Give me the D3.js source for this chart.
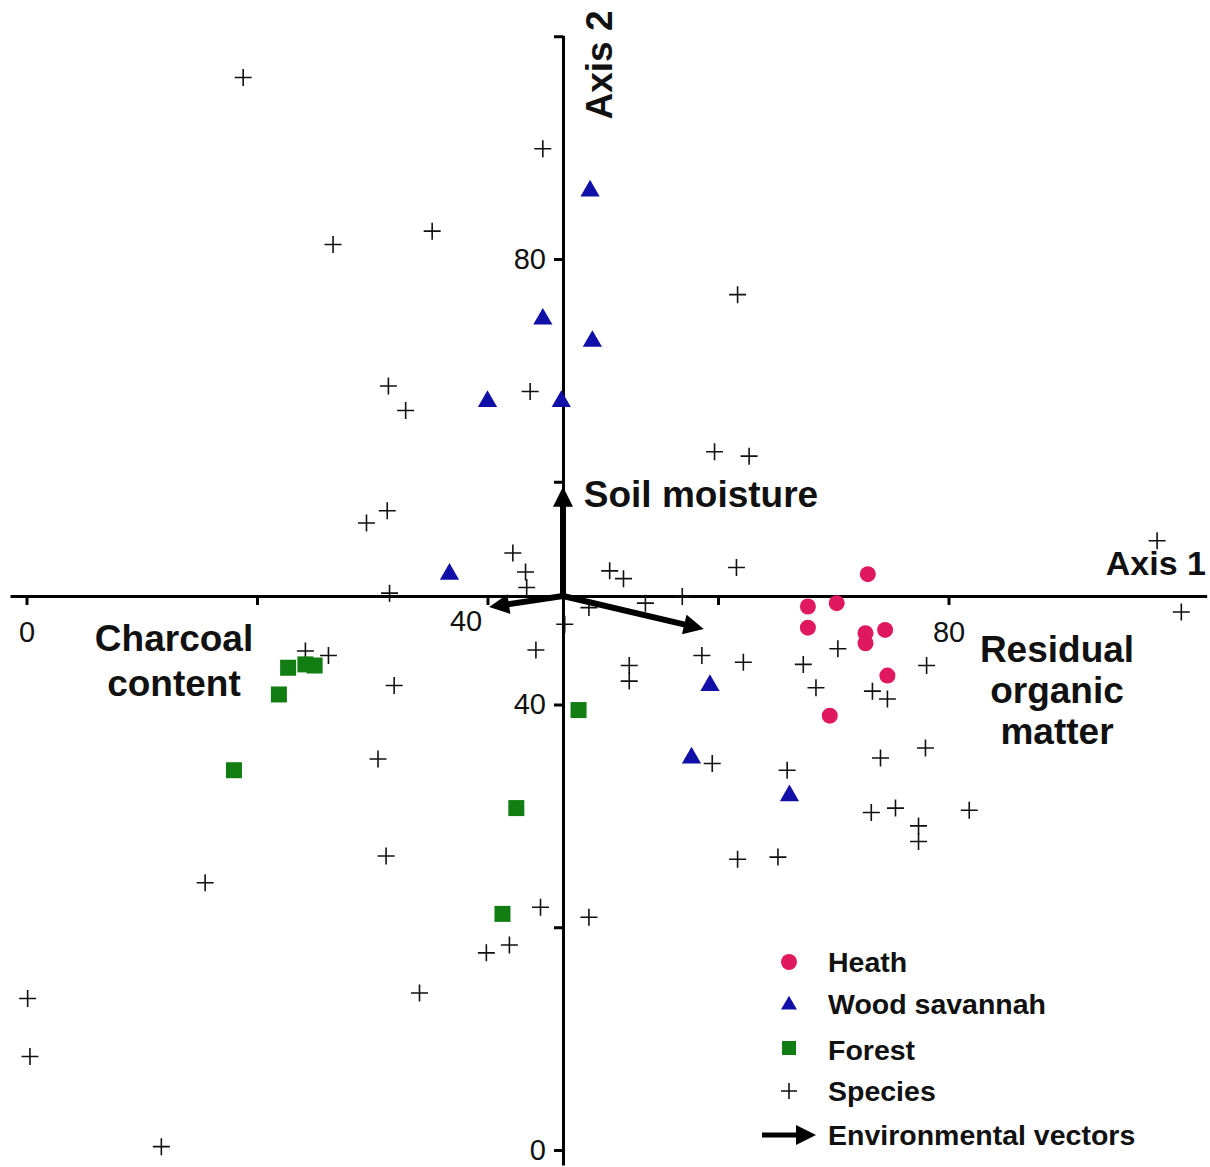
<!DOCTYPE html>
<html>
  <head>
    <script src="https://cdn.jsdelivr.net/npm/d3@7"></script>
    <style>
      body { margin: 0; background: #fff; }
      svg text { font-family: "Liberation Sans", Arial, sans-serif; fill: #111; }
    </style>
  </head>
  <body>
    <script>

    // Site scores (axis units)
    var heathX = [73.0, 67.8, 70.3, 67.8, 72.8, 72.8, 74.5, 74.7, 69.7];
    var heathY = [51.7, 48.8, 49.1, 46.9, 46.4, 45.5, 46.7, 42.6, 39.0];

    var savannahX = [48.9, 44.8, 49.1, 40.0, 46.4, 36.7, 59.3, 57.7, 66.2];
    var savannahY = [86.2, 74.7, 72.7, 67.3, 67.3, 51.8, 41.8, 35.3, 31.9];

    var forestX = [22.7, 24.2, 25.0, 21.9, 18.0, 47.9, 42.5, 41.3];
    var forestY = [43.3, 43.6, 43.5, 40.9, 34.1, 39.5, 30.7, 21.2];

    // Species scores
    var speciesX = [18.8, 26.6, 35.2, 44.8, 31.4, 32.9, 43.7, 29.5, 31.3, 42.2,
      43.3, 31.5, 43.4, 61.7, 59.7, 62.7, 50.6, 51.8, 61.6, 98.1,
      56.9, 100.2, 53.7, 48.8, 46.7, 58.6, 62.2, 67.4, 70.4, 52.3,
      52.3, 68.5, 73.4, 74.7, 78.1, 78.0, 74.1, 59.5, 66.0, 73.3,
      75.4, 81.8, 77.4, 77.4, 61.7, 65.2, 48.8, 44.2, 24.2, 26.2,
      31.9, 30.5, 31.2, 15.5, 44.6, 39.9, 41.9, 34.1, 0.1, 0.3, 11.7];
    var speciesY = [96.3, 81.3, 82.5, 89.9, 68.6, 66.4, 68.1, 56.3, 57.4, 53.6,
      51.9, 50.0, 50.5, 76.8, 62.7, 62.3, 52.0, 51.3, 52.3, 54.7,
      49.7, 48.3, 49.1, 48.7, 47.2, 44.4, 43.8, 43.6, 45.0, 43.5,
      42.1, 41.5, 41.2, 40.5, 43.5, 36.1, 35.2, 34.7, 34.1, 30.3,
      30.7, 30.5, 29.1, 27.7, 26.1, 26.3, 20.9, 44.9, 44.8, 44.4,
      41.7, 35.1, 26.4, 24.0, 21.8, 17.7, 18.4, 14.1, 13.6, 8.4, 0.3];

    // Environmental vectors, drawn from the axis crossing
    var vectorNames = ["Soil moisture", "Charcoal content", "Residual organic matter"];
    var vectorX = [46.55, 39.8, 59.1];
    var vectorY = [59.9, 48.7, 46.7];

    // Where the two axes cross
    var originX = 46.55;
    var originY = 49.74;

    var tickValues = [0, 20, 40, 60, 80, 100];
    var tickLabels = ["0", "", "40", "", "80", ""];

    var legendLabels = ["Heath", "Wood savannah", "Forest", "Species", "Environmental vectors"];

    var heathColor = "#e0195f";
    var savannahColor = "#1010a8";
    var forestColor = "#127d12";

    var W = 1210, H = 1167;

    var svg = d3.select("body").append("svg")
      .attr("width", W)
      .attr("height", H);

    var x = d3.scaleLinear().domain([0, 80]).range([26.5, 948.5]);
    var y = d3.scaleLinear().domain([0, 80]).range([1150, 259]);

    var x0 = x(originX), y0 = y(originY);

    // Arrow head
    svg.append("defs").append("marker")
      .attr("id", "head")
      .attr("viewBox", "0 0 10 10")
      .attr("refX", 2).attr("refY", 5)
      .attr("markerUnits", "userSpaceOnUse")
      .attr("markerWidth", 22).attr("markerHeight", 20)
      .attr("orient", "auto")
      .append("path")
      .attr("d", "M0,0 L10,5 L0,10 Z")
      .attr("fill", "#000");

    // Horizontal axis
    var xAxisScale = x.copy().domain([-1.43, 102.4]).range([x(-1.43), x(102.4)]);
    var xAxis = svg.append("g")
      .attr("transform", "translate(0," + y0 + ")")
      .call(d3.axisBottom(xAxisScale)
        .tickValues(tickValues.slice(0, 5))
        .tickFormat(function(d, i) { return tickLabels[i]; })
        .tickSize(9).tickSizeOuter(0).tickPadding(16));
    xAxis.select(".domain").attr("stroke-width", 3);
    xAxis.selectAll(".tick line").attr("stroke-width", 3);
    xAxis.selectAll(".tick text").attr("font-size", 29).attr("fill", "#111");
    // the 40 label sits left of its tick, clear of the arrow
    xAxis.selectAll(".tick text").filter(function(d) { return d === 40; })
      .attr("dx", -22).attr("dy", "0.36em");

    // Vertical axis
    var yAxisScale = y.copy().domain([-1.35, 100.1]).range([y(-1.35), y(100.1)]);
    var yAxis = svg.append("g")
      .attr("transform", "translate(" + x0 + ",0)")
      .call(d3.axisLeft(yAxisScale)
        .tickValues(tickValues)
        .tickFormat(function(d, i) { return tickLabels[i]; })
        .tickSize(9).tickSizeOuter(0).tickPadding(8));
    yAxis.select(".domain").attr("stroke-width", 3);
    yAxis.selectAll(".tick line").attr("stroke-width", 3);
    yAxis.selectAll(".tick text").attr("font-size", 29).attr("fill", "#111");

    // Axis titles
    svg.append("text")
      .attr("x", 1206).attr("y", 575)
      .attr("text-anchor", "end")
      .attr("font-size", 34).attr("font-weight", "bold")
      .text("Axis 1");
    svg.append("text")
      .attr("transform", "translate(612,65)rotate(-90)")
      .attr("text-anchor", "middle")
      .attr("font-size", 37).attr("font-weight", "bold")
      .text("Axis 2");

    // Species
    var cross = 8.5;
    svg.append("g").selectAll("path")
      .data(speciesX)
      .enter()
      .append("path")
        .attr("d", function(d, i) {
          var px = x(d), py = y(speciesY[i]);
          return "M" + (px - cross) + "," + py + "H" + (px + cross) +
            "M" + px + "," + (py - cross) + "V" + (py + cross);
        })
        .attr("stroke", "#111")
        .attr("stroke-width", 1.6)
        .attr("fill", "none");

    // Heath
    svg.append("g").selectAll("circle")
      .data(heathX)
      .enter()
      .append("circle")
        .attr("cx", function(d) { return x(d); })
        .attr("cy", function(d, i) { return y(heathY[i]); })
        .attr("r", 8)
        .attr("fill", heathColor);

    // Wood savannah
    var tri = d3.symbol().type(d3.symbolTriangle).size(160);
    svg.append("g").selectAll("path")
      .data(savannahX)
      .enter()
      .append("path")
        .attr("d", tri)
        .attr("transform", function(d, i) {
          return "translate(" + x(d) + "," + (y(savannahY[i]) + 1) + ")";
        })
        .attr("fill", savannahColor);

    // Forest
    var sq = 16;
    svg.append("g").selectAll("rect")
      .data(forestX)
      .enter()
      .append("rect")
        .attr("x", function(d) { return x(d) - sq / 2; })
        .attr("y", function(d, i) { return y(forestY[i]) - sq / 2; })
        .attr("width", sq).attr("height", sq)
        .attr("fill", forestColor);

    // Environmental vectors
    svg.append("g").selectAll("line")
      .data(vectorX)
      .enter()
      .append("line")
        .attr("x1", x0).attr("y1", y0)
        .attr("x2", function(d, i) {
          var dx = x(d) - x0, dy = y(vectorY[i]) - y0, L = Math.hypot(dx, dy);
          return x0 + dx * (L - 20) / L;
        })
        .attr("y2", function(d, i) {
          var dx = x(d) - x0, dy = y(vectorY[i]) - y0, L = Math.hypot(dx, dy);
          return y0 + dy * (L - 20) / L;
        })
        .attr("stroke", "#000")
        .attr("stroke-width", 6)
        .attr("marker-end", "url(#head)");

    // Vector labels
    var vecLabels = [
      { lines: ["Soil moisture"], x: 701, y: 507 },
      { lines: ["Charcoal", "content"], x: 174, y: 651 },
      { lines: ["Residual", "organic", "matter"], x: 1057, y: 662 }
    ];
    vecLabels.forEach(function(l) {
      var t = svg.append("text")
        .attr("text-anchor", "middle")
        .attr("font-size", 37).attr("font-weight", "bold");
      l.lines.forEach(function(s, k) {
        t.append("tspan").attr("x", l.x).attr("y", l.y + k * (l.lines.length > 2 ? 41 : 45)).text(s);
      });
    });

    // Legend
    var legY = [962, 1004, 1050, 1091, 1135];
    var lx = 789, tx = 828;
    var leg = svg.append("g");
    leg.append("circle").attr("cx", lx).attr("cy", legY[0]).attr("r", 8).attr("fill", heathColor);
    leg.append("path").attr("d", d3.symbol().type(d3.symbolTriangle).size(110))
      .attr("transform", "translate(" + lx + "," + (legY[1] + 1) + ")").attr("fill", savannahColor);
    leg.append("rect").attr("x", lx - 7).attr("y", legY[2] - 9).attr("width", 14).attr("height", 14).attr("fill", forestColor);
    leg.append("path")
      .attr("d", "M" + (lx - 8) + "," + legY[3] + "H" + (lx + 8) + "M" + lx + "," + (legY[3] - 8) + "V" + (legY[3] + 8))
      .attr("stroke", "#111").attr("stroke-width", 1.6);
    leg.append("line")
      .attr("x1", 762).attr("y1", legY[4]).attr("x2", 800).attr("y2", legY[4])
      .attr("stroke", "#000").attr("stroke-width", 5)
      .attr("marker-end", "url(#head)");
    leg.selectAll("text")
      .data(legendLabels)
      .enter()
      .append("text")
        .attr("x", tx)
        .attr("y", function(d, i) { return legY[i] + 10; })
        .attr("font-size", 28.5).attr("font-weight", "bold")
        .text(function(d) { return d; });

    </script>
  </body>
</html>
